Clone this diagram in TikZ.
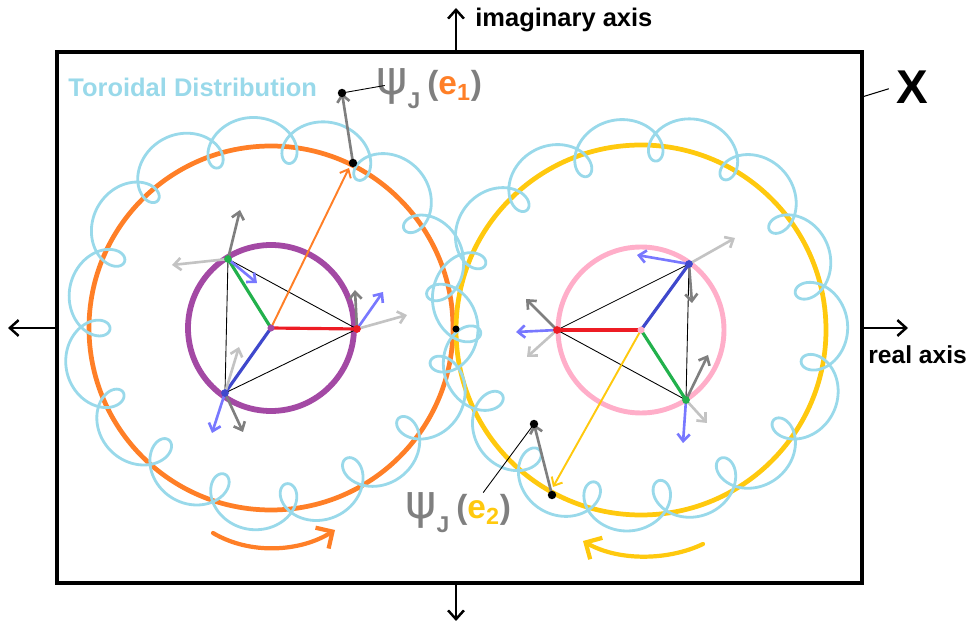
\documentclass[tikz,border=0pt]{standalone}
\usepackage{fontspec}
\setmainfont{Liberation Sans}
\newfontfamily\psifont{DejaVu Sans}
\usepackage{xcolor}
\usepackage{tikz}
\usetikzlibrary{arrows.meta, positioning, calc}

\definecolor{paintorange}{RGB}{255,127,39}
\definecolor{paintyellow}{RGB}{255,201,14}
\definecolor{paintpurple}{RGB}{163,73,164}
\definecolor{paintpink}{RGB}{255,174,201}
\definecolor{paintsky}{RGB}{153,217,234}
\definecolor{paintred}{RGB}{237,28,36}
\definecolor{paintgreen}{RGB}{34,177,76}
\definecolor{paintblue}{RGB}{63,72,204}
\definecolor{paintlilac}{RGB}{120,120,255}
\definecolor{paintgray}{RGB}{127,127,127}
\definecolor{paintsilver}{RGB}{195,195,195}

% psi_J(e_k) label
\newcommand{\psilab}[2]{%
  {\color{paintgray}\psifont\fontsize{27}{27}\selectfont\mdseries ψ}%
  \raisebox{-1.5ex}{\color{paintgray}\fontsize{13}{13}\selectfont J}%
  \hspace{4pt}{\color{paintgray}\fontsize{19}{19}\selectfont (}%
  {\color{#1}\fontsize{19}{19}\selectfont e\textsubscript{#2}}%
  {\color{paintgray}\fontsize{19}{19}\selectfont )}}

\begin{document}
\begin{tikzpicture}[x=0.02cm, y={(0cm,-0.02cm)}, >={Straight Barb[length=5pt,width=9pt]},
  every node/.style={font=\bfseries, inner sep=0pt},
  vec/.style={->, line width=1.5pt, line cap=round, >={Straight Barb[length=4pt,width=7pt]}},
  spoke/.style={line width=1.8pt},
  tri/.style={black, line width=0.5pt},
  torus/.style={paintsky, line width=1.6pt, line cap=round, line join=round},
  axis/.style={->, line width=1.4pt},
  blackdot/.style={fill=black}]
  \useasboundingbox (0,0) rectangle (978,631);

  % frame X and axes
  \draw[line width=2.8pt] (57,52) rectangle (862,583);
  \coordinate (imfoot) at (456,52);  \coordinate (imtop) at (456,8);
  \coordinate (imbase) at (456,583); \coordinate (imdown) at (456,621);
  \coordinate (refoot) at (57,328);  \coordinate (releft) at (8,328);
  \coordinate (rebase) at (862,328); \coordinate (reright) at (908,328);
  \draw[axis] (imfoot) -- (imtop);
  \draw[axis] (imbase) -- (imdown);
  \draw[axis] (refoot) -- (releft);
  \draw[axis] (rebase) -- (reright);
  \node[anchor=west, font=\bfseries\fontsize{14.5}{14.5}\selectfont] (imlab) at (475,20) {imaginary axis};
  \node[anchor=west, font=\bfseries\fontsize{14}{14}\selectfont] (relab) at (868,355) {real axis};
  \node[font=\bfseries\fontsize{27}{27}\selectfont] (xlab) at (912,87) {X};
  \coordinate (xhook) at (862,97);
  \draw[line width=0.6pt] (xhook) -- ([xshift=-4pt,yshift=-1pt]xlab.west);
  \node[anchor=west, text=paintsky, font=\bfseries\fontsize{14.5}{14.5}\selectfont] (torlab) at (68,87) {Toroidal Distribution};

  % centres and vertices
  \coordinate (Lc) at (271,328);
  \coordinate (G1) at (228,259); \coordinate (R1) at (357,329); \coordinate (B1) at (225,393);
  \coordinate (Rc) at (641,330);
  \coordinate (R2) at (557,330); \coordinate (B2) at (689,264); \coordinate (G2) at (686,400);

  % big circles
  \draw[paintorange, line width=2.7pt] (Lc) circle (182);
  \draw[paintyellow, line width=2.7pt] (Rc) circle (185);

  % toroidal distributions
  \draw[torus] plot[domain=0:360, samples=1200, smooth, variable=\t]
    ({271+(184-8*sin(\t)+4*sin(5*\t))*cos(\t)+23*cos(16*\t)},
     {328+(184-8*sin(\t)+4*sin(5*\t))*sin(\t)+23*sin(16*\t)});
  \draw[torus] plot[domain=0:360, samples=1200, smooth, variable=\t]
    ({641+(184-7*sin(\t)+5*sin(4*\t))*cos(\t)+23*cos(16*\t+20)},
     {330+(184-7*sin(\t)+5*sin(4*\t))*sin(\t)+23*sin(16*\t+20)});

  % inner circles
  \draw[paintpurple, line width=3.3pt] (Lc) circle (83);
  \draw[paintpink, line width=2.8pt] (Rc) circle (83);

  % left triangle
  \draw[tri] (G1) -- (R1) -- (B1) -- cycle;
  \draw[spoke, paintred] (Lc) -- (R1);
  \draw[spoke, paintgreen] (Lc) -- (G1);
  \draw[spoke, paintblue] (Lc) -- (B1);
  \draw[vec, paintgray] (G1) -- ++(12,-49);
  \draw[vec, paintsilver] (G1) -- ++(-56,6);
  \draw[vec, paintlilac] (G1) -- ++(29,24);
  \draw[vec, paintgray] (R1) -- ++(-2,-39);
  \draw[vec, paintlilac] (R1) -- ++(26,-37);
  \draw[vec, paintsilver] (R1) -- ++(50,-14);
  \draw[vec, paintsilver] (B1) -- ++(14,-46);
  \draw[vec, paintlilac] (B1) -- ++(-13,40);
  \draw[vec, paintgray] (B1) -- ++(18,39);
  \fill[paintgreen] (G1) circle (2.2pt);
  \fill[paintred] (R1) circle (2.2pt);
  \fill[paintblue] (B1) circle (2.2pt);

  % right triangle
  \draw[tri] (R2) -- (B2) -- (G2) -- cycle;
  \draw[spoke, paintred] (Rc) -- (R2);
  \draw[spoke, paintblue] (Rc) -- (B2);
  \draw[spoke, paintgreen] (Rc) -- (G2);
  \draw[vec, paintsilver] (B2) -- ++(46,-26);
  \draw[vec, paintlilac] (B2) -- ++(-52,-9);
  \draw[vec, paintgray] (B2) -- ++(3,39);
  \draw[vec, paintgray] (R2) -- ++(-31,-31);
  \draw[vec, paintlilac] (R2) -- ++(-41,2);
  \draw[vec, paintsilver] (R2) -- ++(-30,27);
  \draw[vec, paintgray] (G2) -- ++(22,-45);
  \draw[vec, paintlilac] (G2) -- ++(-3,43);
  \draw[vec, paintsilver] (G2) -- ++(21,23);
  \fill[paintred] (R2) circle (2.2pt);
  \fill[paintblue] (B2) circle (2.2pt);
  \fill[paintgreen] (G2) circle (2.2pt);

  % radius arrows, embeddings and labels
  \coordinate (e1) at (353,163); \coordinate (e1tip) at (349,168);
  \coordinate (psi1) at (342,93);
  \coordinate (e2) at (552,495); \coordinate (e2tip) at (553,487);
  \coordinate (psi2) at (534,424);
  \draw[->, paintorange, line width=1.1pt, >={Straight Barb[length=4pt,width=7pt]}] (Lc) -- (e1tip);
  \draw[->, paintyellow, line width=1.1pt, >={Straight Barb[length=4pt,width=7pt]}] (Rc) -- (e2tip);
  \draw[vec, paintgray] (e1) -- (psi1);
  \draw[vec, paintgray] (e2) -- (psi2);
  \fill[paintpurple] (Lc) circle (2pt);
  \fill[paintpink] (Rc) circle (2pt);
  \fill[blackdot] (e1) circle (2.4pt);
  \fill[blackdot] (psi1) circle (2.4pt);
  \fill[blackdot] (e2) circle (2.4pt);
  \fill[blackdot] (psi2) circle (2.4pt);
  \fill[blackdot] (456,329) circle (2pt);

  \node[anchor=west] (psione) at (376,89) {\psilab{paintorange}{1}};
  \node[anchor=west] (psitwo) at (405,513) {\psilab{paintyellow}{2}};
  \draw[line width=0.5pt] (psi1) -- ([xshift=5pt,yshift=2pt]psione.west);
  \draw[line width=0.5pt] (psi2) -- ($(psitwo.north)+(25,0)$);

  % circulation
  \draw[->, paintorange, line width=2.4pt, line cap=round, >={Straight Barb[length=7pt,width=14pt]}]
    (213,533) .. controls (250,555) and (300,552) .. (335,530);
  \draw[->, paintyellow, line width=2.4pt, line cap=round, >={Straight Barb[length=7pt,width=14pt]}]
    (703,544) .. controls (670,560) and (620,562) .. (583,541);
\end{tikzpicture}
\end{document}
